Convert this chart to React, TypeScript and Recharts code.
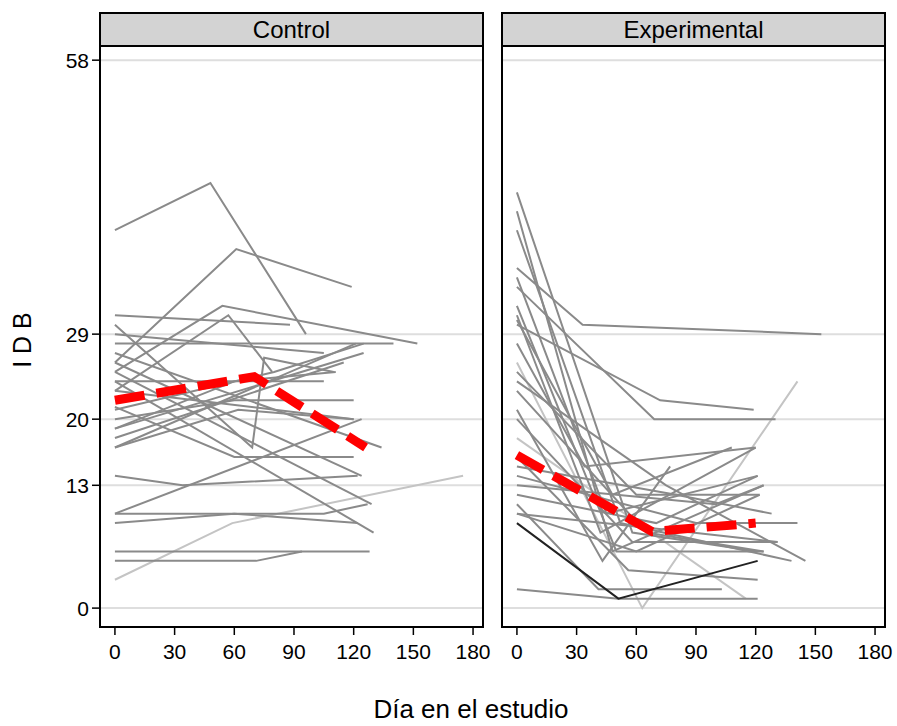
import { LineChart, Line, XAxis, YAxis, ReferenceLine } from 'recharts'

// eje x (día) y eje y (IDB)
const xTicks = [0, 30, 60, 90, 120, 150, 180]
const yTicks = [0, 13, 20, 29, 58]
const panels = ['Control', 'Experimental']

// trayectorias individuales [día, IDB]
const controlSubjects: [number, number][][] = [
  [[0, 40], [48, 45], [96, 29]],
  [[0, 26], [61, 38], [119, 34]],
  [[0, 25], [54, 32], [152, 28]],
  [[0, 23], [57, 31], [79, 25]],
  [[0, 31], [88, 30]],
  [[0, 28], [140, 28]],
  [[0, 29], [105, 27]],
  [[0, 30], [69, 17], [75, 26.5], [110, 25]],
  [[0, 21.3], [60, 16], [120, 16]],
  [[0, 20], [60, 22], [120, 22]],
  [[0, 19], [125, 27]],
  [[0, 18], [115, 26]],
  [[0, 17], [121, 28]],
  [[0, 14], [34, 13], [122, 14]],
  [[0, 10], [105, 10], [127, 11]],
  [[0, 10], [124, 20]],
  [[0, 9], [60, 10], [122, 9]],
  [[0, 6], [128, 6]],
  [[0, 5], [71, 5], [94, 6]],
  [[0, 25], [129, 11]],
  [[0, 24], [130, 8]],
  [[0, 26], [124, 14]],
  [[0, 27], [134, 17]],
  [[0, 24], [105, 24]],
  [[0, 23], [120, 20]],
  [[0, 21], [80, 25], [125, 28]],
  [[0, 19], [60, 24], [111, 25]],
  [[0, 17], [62, 21], [120, 20]],
]
const controlFaint: [number, number][][] = [
  [[0, 3], [59, 9], [175, 14]],
]
const controlDark: [number, number][][] = []
const controlMean: [number, number][] = [[0, 22], [70, 24.5], [126, 17]]

const expSubjects: [number, number][][] = [
  [[0, 36], [33, 30], [153, 29]],
  [[0, 44], [58, 8], [121, 6]],
  [[0, 42], [48, 6], [124, 13]],
  [[0, 40], [52, 9], [138, 5]],
  [[0, 30], [72, 22], [119, 21]],
  [[0, 34], [69, 20], [130, 20]],
  [[0, 35], [45, 10], [121, 14]],
  [[0, 32], [50, 6], [124, 6]],
  [[0, 31], [42, 8], [120, 17]],
  [[0, 30.5], [48, 12], [108, 17]],
  [[0, 28], [34, 15], [120, 17]],
  [[0, 25], [60, 12], [122, 12]],
  [[0, 24], [75, 13], [145, 5]],
  [[0, 23], [65, 8], [124, 6]],
  [[0, 21], [43, 5], [77, 15]],
  [[0, 20], [58, 7], [131, 7]],
  [[0, 15], [80, 12], [128, 10]],
  [[0, 16], [56, 4], [121, 3]],
  [[0, 14], [90, 9], [141, 9]],
  [[0, 13], [100, 11], [124, 13]],
  [[0, 12], [70, 9], [121, 14]],
  [[0, 11], [41, 2], [103, 2]],
  [[0, 10], [88, 8], [131, 7]],
  [[0, 10], [60, 6], [122, 12]],
  [[0, 2], [51, 1], [121, 1]],
]
const expFaint: [number, number][][] = [
  [[0, 26], [63, 0], [141, 24]],
  [[0, 18], [115, 1]],
]
const expDark: [number, number][][] = [
  [[0, 9], [51, 1], [121, 5]],
]
const expMean: [number, number][] = [[0, 16.2], [68, 8.1], [120, 9]]

const toRows = (pts: [number, number][]) => pts.map(([d, v]) => ({ d, v }))

const FONT = '"Liberation Sans", Arial, sans-serif'
const PLOT_TOP = 46
const PLOT_H = 581
const AXIS_H = 60
const PAD_R = 24

interface PanelProps {
  title: string
  plotLeft: number
  plotWidth: number
  showY: boolean
  subjects: [number, number][][]
  faint: [number, number][][]
  dark: [number, number][][]
  mean: [number, number][]
}

function Panel({ title, plotLeft, plotWidth, showY, subjects, faint, dark, mean }: PanelProps) {
  const yW = showY ? 60 : 0
  return (
    <>
      <div
        style={{
          position: 'absolute',
          left: plotLeft - 1,
          top: 12,
          width: plotWidth + 2,
          height: 35,
          boxSizing: 'border-box',
          border: '2px solid #000',
          background: '#d3d3d3',
          textAlign: 'center',
          fontSize: 24,
          lineHeight: '31px',
        }}
      >
        {title}
      </div>
      <LineChart
        width={plotWidth + yW + PAD_R}
        height={PLOT_H + AXIS_H}
        margin={{ top: 0, right: PAD_R, bottom: 0, left: 0 }}
        style={{ position: 'absolute', left: plotLeft - yW, top: PLOT_TOP }}
      >
        <XAxis
          type="number"
          dataKey="d"
          domain={[-7.5, 185]}
          ticks={xTicks}
          interval={0}
          allowDataOverflow
          height={AXIS_H}
          axisLine={false}
          tickSize={8}
          tickMargin={9}
          tickLine={{ stroke: '#000', strokeWidth: 1.5 }}
          tick={{ fill: '#000', fontSize: 21, fontFamily: FONT }}
        />
        <YAxis
          type="number"
          domain={[-2, 59.5]}
          ticks={yTicks}
          interval={0}
          allowDataOverflow
          hide={!showY}
          width={yW}
          axisLine={false}
          tickSize={8}
          tickMargin={3}
          tickLine={{ stroke: '#000', strokeWidth: 1.5 }}
          tick={{ fill: '#000', fontSize: 21, fontFamily: FONT }}
        />
        {yTicks.map((t) => (
          <ReferenceLine key={'g' + t} y={t} stroke="#dedede" strokeWidth={2} />
        ))}
        {faint.map((s, i) => (
          <Line key={'f' + i} data={toRows(s)} dataKey="v" stroke="#c4c4c4" strokeWidth={2} dot={false} isAnimationActive={false} />
        ))}
        {subjects.map((s, i) => (
          <Line key={'s' + i} data={toRows(s)} dataKey="v" stroke="#8a8a8a" strokeWidth={2} dot={false} isAnimationActive={false} />
        ))}
        {dark.map((s, i) => (
          <Line key={'k' + i} data={toRows(s)} dataKey="v" stroke="#222" strokeWidth={2} dot={false} isAnimationActive={false} />
        ))}
        <Line
          data={toRows(mean)}
          dataKey="v"
          stroke="#ff0000"
          strokeWidth={9}
          strokeDasharray="30 12"
          dot={false}
          isAnimationActive={false}
        />
      </LineChart>
      <div
        style={{
          position: 'absolute',
          left: plotLeft - 1,
          top: PLOT_TOP - 1,
          width: plotWidth + 2,
          height: PLOT_H + 2,
          boxSizing: 'border-box',
          border: '2px solid #000',
          pointerEvents: 'none',
        }}
      />
    </>
  )
}

export default function App() {
  return (
    <div
      style={{
        position: 'absolute',
        left: 0,
        top: 0,
        width: 897,
        height: 726,
        background: '#fff',
        fontFamily: FONT,
        color: '#000',
      }}
    >
      <Panel
        title={panels[0]}
        plotLeft={100}
        plotWidth={383}
        showY
        subjects={controlSubjects}
        faint={controlFaint}
        dark={controlDark}
        mean={controlMean}
      />
      <Panel
        title={panels[1]}
        plotLeft={502}
        plotWidth={383}
        showY={false}
        subjects={expSubjects}
        faint={expFaint}
        dark={expDark}
        mean={expMean}
      />
      <div
        style={{
          position: 'absolute',
          left: 22 - 45,
          top: 340 - 15,
          width: 90,
          height: 30,
          textAlign: 'center',
          fontSize: 25,
          lineHeight: '30px',
          transform: 'rotate(-90deg)',
        }}
      >
        I D B
      </div>
      <div
        style={{
          position: 'absolute',
          left: 271,
          top: 694,
          width: 400,
          textAlign: 'center',
          fontSize: 26,
          lineHeight: '30px',
        }}
      >
        Día en el estudio
      </div>
    </div>
  )
}
